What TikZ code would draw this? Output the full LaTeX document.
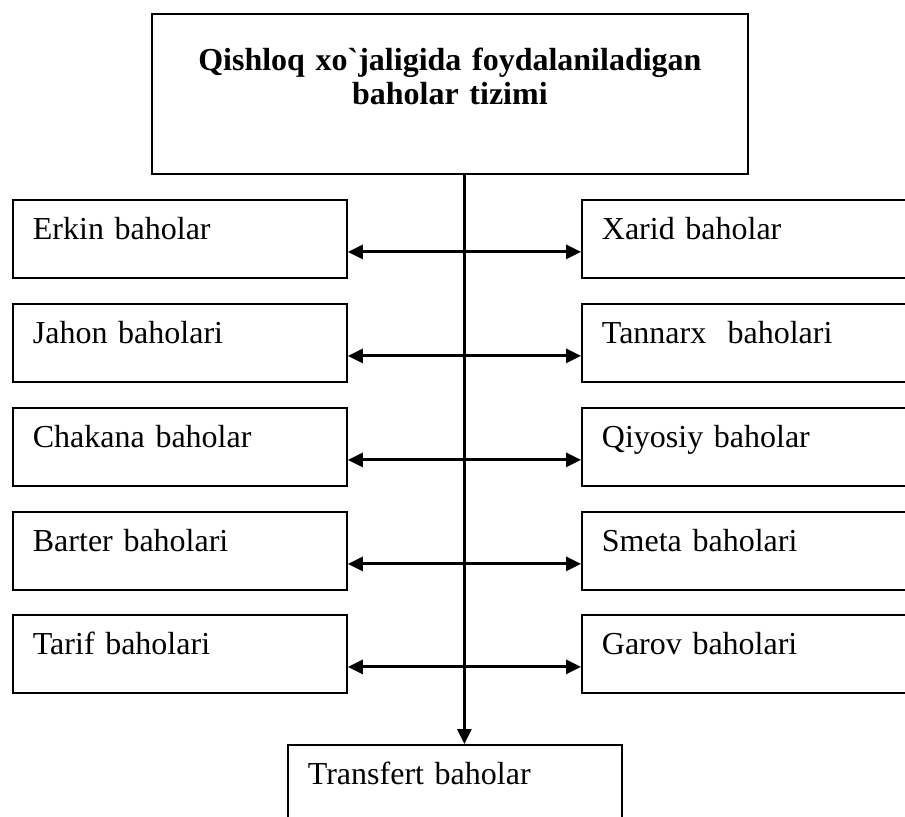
\documentclass[tikz,border=0pt]{standalone}
\usepackage{fontspec}
\setmainfont{Liberation Serif}
\usetikzlibrary{arrows.meta}

\begin{document}
\begin{tikzpicture}[x = 0.5pt, y = -0.5pt, font = \fontsize{16}{17}\selectfont]
\tikzstyle{boxStyle} = [shape = rectangle, draw, line width = 0.9pt, minimum width = 167pt, minimum height = 39pt, inner xsep = 10pt, inner ysep = 0pt, text width = 147pt, align = left, text height = 11pt, text depth = 10pt, anchor = north west]
\tikzstyle{titleStyle} = [shape = rectangle, draw, line width = 0.9pt, minimum width = 298pt, minimum height = 80pt, inner xsep = 10pt, inner ysep = 0pt, text width = 278pt, align = center, text height = 11pt, text depth = 34pt, anchor = north west, font = \fontsize{16}{17}\selectfont\bfseries]
\tikzstyle{linkStyle} = [line width = 1.4pt, {Triangle[length = 7.5pt, width = 7pt]}-{Triangle[length = 7.5pt, width = 7pt]}]
\tikzstyle{trunkStyle} = [line width = 1.4pt, -{Triangle[length = 7.5pt, width = 7pt]}]
\path[use as bounding box, clip] (0,0) rectangle (905,817);
\node[titleStyle] (t0) at (151,13) {Qishloq xo\textasciigrave jaligida foydalaniladigan\\ baholar tizimi};
\node[boxStyle] (l1) at (12,199) {Erkin baholar};
\node[boxStyle] (l2) at (12,303) {Jahon baholari};
\node[boxStyle] (l3) at (12,407) {Chakana baholar};
\node[boxStyle] (l4) at (12,511) {Barter baholari};
\node[boxStyle] (l5) at (12,614) {Tarif baholari};
\node[boxStyle] (r1) at (581,199) {Xarid baholar};
\node[boxStyle] (r2) at (581,303) {Tannarx~ baholari};
\node[boxStyle] (r3) at (581,407) {Qiyosiy baholar};
\node[boxStyle] (r4) at (581,511) {Smeta baholari};
\node[boxStyle] (r5) at (581,614) {Garov baholari};
\node[boxStyle] (b0) at (287,744) {Transfert baholar};
\path (l1.east) -- (r1.west) coordinate[midway] (m1);
\draw[trunkStyle] (t0.south -| m1) -- (b0.north -| m1);
\draw[linkStyle] ([yshift = -6.5pt]l1.east) -- ([yshift = -6.5pt]r1.west);
\draw[linkStyle] ([yshift = -6.5pt]l2.east) -- ([yshift = -6.5pt]r2.west);
\draw[linkStyle] ([yshift = -6.5pt]l3.east) -- ([yshift = -6.5pt]r3.west);
\draw[linkStyle] ([yshift = -6.5pt]l4.east) -- ([yshift = -6.5pt]r4.west);
\draw[linkStyle] ([yshift = -6.5pt]l5.east) -- ([yshift = -6.5pt]r5.west);
\end{tikzpicture}
\end{document}
